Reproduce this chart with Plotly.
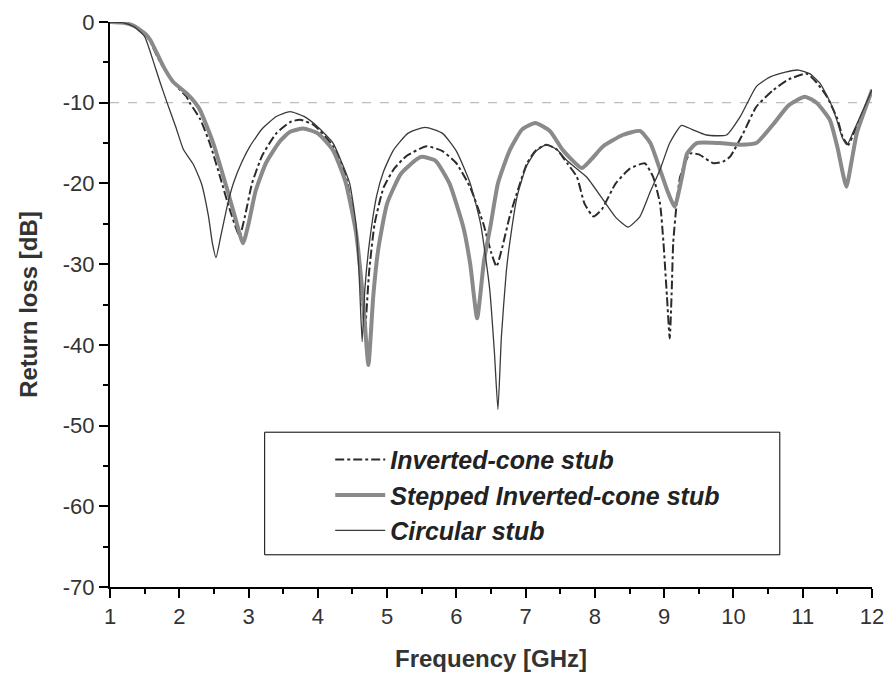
import plotly.graph_objects as go

# Return loss curves (GHz, dB)
freq_cone = [1.0, 1.2, 1.35, 1.5, 1.58, 1.7, 1.8, 1.91, 2.0, 2.1, 2.15, 2.3, 2.44, 2.6, 2.72,
             2.87, 2.95, 3.05, 3.2, 3.4, 3.6, 3.74, 3.95, 4.22, 4.4, 4.52, 4.6, 4.68, 4.74,
             4.82, 4.95, 5.1, 5.28, 5.57, 5.8, 6.0, 6.2, 6.39, 6.5, 6.58, 6.66, 6.77, 6.9,
             7.02, 7.15, 7.3, 7.45, 7.6, 7.74, 7.85, 7.98, 8.1, 8.3, 8.5, 8.72, 8.84, 8.94,
             8.99, 9.04, 9.08, 9.11, 9.13, 9.18, 9.23, 9.37, 9.5, 9.71, 9.85, 9.95, 10.14,
             10.33, 10.58, 10.8, 11.06, 11.2, 11.35, 11.5, 11.58, 11.66, 11.75, 11.85, 12.0]
rl_cone = [0, -0.1, -0.5, -1.5, -2.4, -4.6, -6.0, -7.4, -8.3, -9.2, -10.0, -12.0, -15.0, -19.5,
           -23.0, -26.5, -24.0, -20.0, -16.5, -13.8, -12.4, -12.1, -12.8, -15.4, -19.0, -24.0,
           -30.0, -38.0, -31.0, -25.0, -20.5, -18.2, -16.6, -15.4, -16.0, -17.5, -20.5, -25.0,
           -28.5, -30.3, -28.0, -24.1, -20.5, -17.5, -15.9, -15.2, -15.8, -17.5, -19.2, -22.5,
           -24.1, -23.2, -20.0, -18.2, -17.5, -19.2, -22.5, -27.4, -34.0, -39.2, -33.0, -27.4,
           -22.5, -19.2, -16.3, -16.4, -17.5, -17.3, -16.7, -13.8, -10.5, -8.4, -7.1, -6.4,
           -7.5, -9.25, -12.0, -14.3, -15.2, -13.5, -11.5, -8.4]

freq_stepped = [1.0, 1.2, 1.35, 1.5, 1.58, 1.77, 1.91, 2.1, 2.23, 2.3, 2.49, 2.68, 2.8, 2.92,
                3.0, 3.1, 3.25, 3.45, 3.6, 3.79, 4.0, 4.22, 4.4, 4.55, 4.65, 4.73, 4.8, 4.87,
                5.0, 5.2, 5.43, 5.5, 5.7, 5.9, 6.1, 6.2, 6.3, 6.4, 6.49, 6.6, 6.77, 6.95,
                7.14, 7.35, 7.54, 7.81, 7.95, 8.12, 8.4, 8.65, 8.8, 8.94, 9.05, 9.15, 9.25,
                9.33, 9.47, 9.8, 10.1, 10.33, 10.58, 10.8, 11.03, 11.2, 11.39, 11.5, 11.63,
                11.7, 11.78, 11.9, 12.0]
rl_stepped = [0, -0.1, -0.5, -1.4, -2.2, -5.5, -7.4, -8.8, -10.0, -10.9, -15.0, -20.4, -24.0,
              -27.4, -25.0, -21.0, -17.5, -14.8, -13.6, -13.2, -13.8, -15.9, -19.8, -26.0,
              -34.0, -42.5, -34.0, -28.3, -22.5, -18.8, -17.0, -16.7, -17.2, -20.0, -25.4,
              -30.0, -36.7, -29.5, -25.4, -20.0, -15.9, -13.3, -12.5, -13.5, -15.9, -18.1,
              -17.0, -15.4, -14.0, -13.5, -15.0, -18.3, -21.0, -22.9, -19.5, -16.3, -15.0,
              -15.0, -15.2, -15.0, -12.6, -10.3, -9.25, -10.0, -12.1, -15.5, -20.4, -17.5,
              -13.8, -10.8, -8.4]

freq_circ = [1.0, 1.2, 1.35, 1.5, 1.63, 1.72, 1.82, 1.95, 2.06, 2.2, 2.32, 2.42, 2.48, 2.53, 2.6,
             2.7, 2.78, 2.9, 3.02, 3.2, 3.4, 3.6, 3.8, 4.0, 4.22, 4.35, 4.46, 4.55, 4.6, 4.64,
             4.68, 4.75, 4.85, 4.95, 5.09, 5.3, 5.55, 5.8, 6.0, 6.2, 6.35, 6.48, 6.55, 6.6,
             6.65, 6.72, 6.77, 6.88, 7.01, 7.15, 7.3, 7.45, 7.6, 7.88, 8.1, 8.3, 8.48, 8.65,
             8.8, 8.94, 9.08, 9.25, 9.4, 9.61, 9.9, 10.1, 10.33, 10.53, 10.75, 10.94, 11.1,
             11.25, 11.4, 11.49, 11.57, 11.64, 11.72, 11.83, 12.0]
rl_circ = [0, -0.1, -0.6, -1.8, -5.0, -7.4, -9.9, -13.0, -15.8, -17.6, -20.0, -24.0, -27.5,
           -29.2, -26.5, -22.5, -20.0, -17.4, -15.4, -13.2, -11.7, -11.1, -11.7, -13.0, -15.0,
           -17.5, -20.0, -25.0, -32.0, -39.6, -33.0, -27.0, -21.5, -18.5, -15.9, -13.8, -13.05,
           -13.8, -16.0, -20.0, -25.0, -33.0, -41.0, -48.0, -39.0, -31.0, -27.4, -21.5, -17.9,
           -16.0, -15.2, -15.8, -17.2, -19.2, -21.8, -24.2, -25.4, -24.1, -21.0, -18.3, -15.0,
           -12.8, -13.3, -14.0, -14.0, -11.7, -8.0, -6.8, -6.2, -5.95, -6.4, -7.6, -10.0,
           -12.1, -14.3, -15.2, -13.8, -11.7, -8.4]

names = ["Inverted-cone stub", "Stepped Inverted-cone stub", "Circular stub"]

x_ticks = list(range(1, 13))
y_ticks = [0, -10, -20, -30, -40, -50, -60, -70]
y_ticktext = ["0", "-10", "-20", "-30", "-40", "-50", "-60", "-70"]

FONT = "Liberation Sans, Arial, sans-serif"

fig = go.Figure()
fig.add_trace(go.Scatter(x=freq_cone, y=rl_cone, mode="lines", name=names[0],
                         line=dict(color="#2b2b2b", width=2, dash="dashdot", shape="spline", smoothing=0.5)))
fig.add_trace(go.Scatter(x=freq_stepped, y=rl_stepped, mode="lines", name=names[1],
                         line=dict(color="#8a8a8a", width=4, shape="spline", smoothing=0.5)))
fig.add_trace(go.Scatter(x=freq_circ, y=rl_circ, mode="lines", name=names[2],
                         line=dict(color="#3a3a3a", width=1.3, shape="spline", smoothing=0.5)))

# -10 dB reference line
fig.add_shape(type="line", xref="paper", yref="y", x0=0, x1=1, y0=-10, y1=-10,
              line=dict(color="#bdbdbd", width=1.2, dash="dash"), layer="below")

# legend frame
fig.add_shape(type="rect", xref="paper", yref="paper", x0=0.203, x1=0.879, y0=0.057, y1=0.274,
              line=dict(color="black", width=1), fillcolor="white", layer="below")

axis_common = dict(showline=True, linecolor="black", linewidth=2, showgrid=False,
                   zeroline=False, tickcolor="black", tickwidth=2)

fig.update_layout(
    width=886, height=675,
    paper_bgcolor="white", plot_bgcolor="white",
    margin=dict(l=110, r=14, t=22, b=88, autoexpand=False),
    font=dict(family=FONT, color="#222"),
    showlegend=True,
    legend=dict(x=0.289, y=0.266, xanchor="left", yanchor="top", itemwidth=50,
                bgcolor="rgba(0,0,0,0)", borderwidth=0, tracegroupgap=0,
                font=dict(size=25, family=FONT, weight="bold", style="italic", color="#222")),
    xaxis=dict(range=[1, 12], tickvals=x_ticks, ticks="outside", ticklen=9,
               minor=dict(dtick=0.5, ticks="outside", ticklen=5, tickcolor="black", tickwidth=1.5),
               tickfont=dict(size=22, color="#333"),
               title=dict(text="<b>Frequency [GHz]</b>", font=dict(size=24, color="#333"), standoff=22),
               **axis_common),
    yaxis=dict(range=[-70, 0], tickvals=y_ticks, ticktext=y_ticktext, ticks="outside", ticklen=9,
               minor=dict(dtick=5, ticks="outside", ticklen=5, tickcolor="black", tickwidth=1.5),
               tickfont=dict(size=22, color="#333"),
               title=dict(text="<b>Return loss [dB]</b>", font=dict(size=24, color="#333"), standoff=18),
               **axis_common),
    xaxis2=dict(overlaying="x", side="top", range=[1, 12], tickvals=x_ticks, ticks="inside",
                ticklen=9, showticklabels=False, matches="x", **axis_common),
    yaxis2=dict(overlaying="y", side="right", range=[-70, 0], tickvals=y_ticks, ticks="inside",
                ticklen=9, showticklabels=False, matches="y", **axis_common),
)

# drop the default page margin so the figure fills the window exactly
fig.write_html("out.html", config={"displayModeBar": False},
               post_script="document.body.style.margin='0';document.body.style.overflow='hidden';")
